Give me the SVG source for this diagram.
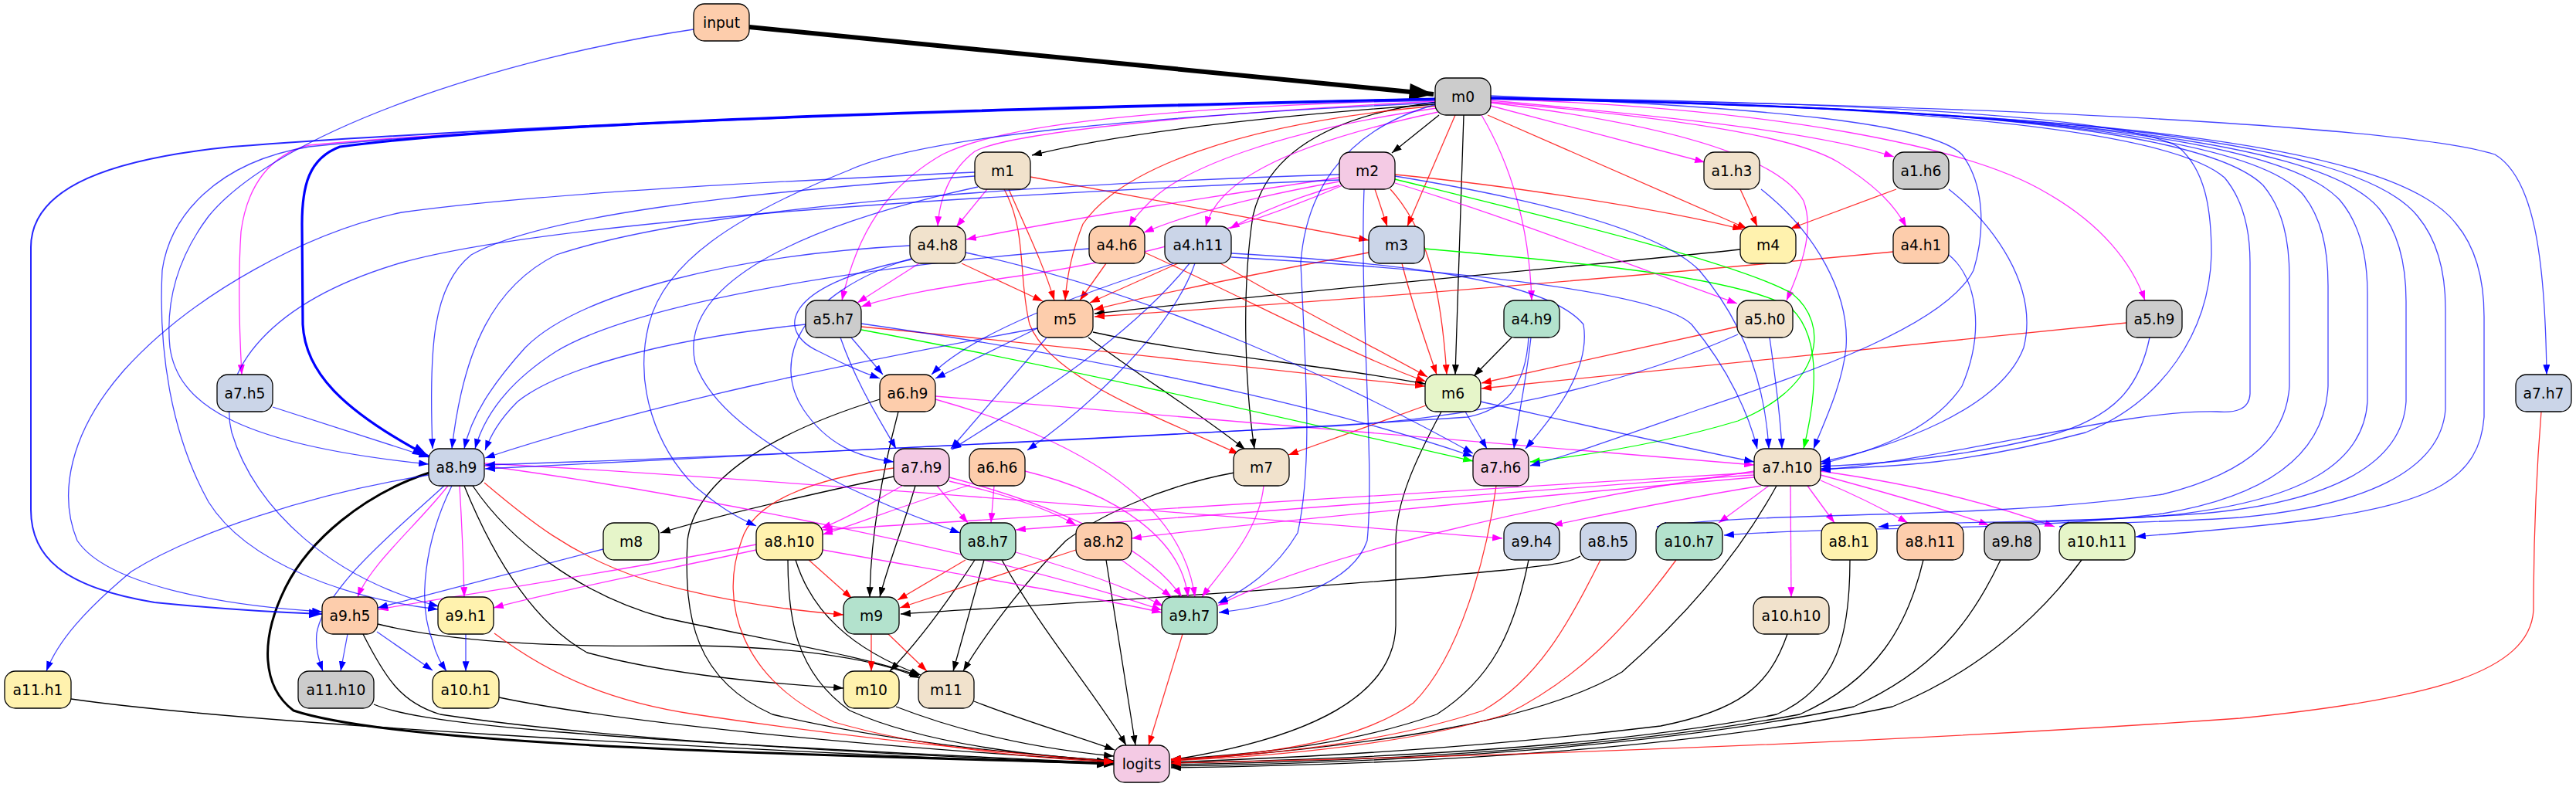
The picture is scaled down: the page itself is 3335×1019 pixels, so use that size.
<svg xmlns="http://www.w3.org/2000/svg" width="3335" height="1019" viewBox="0 0 3335 1019">
<defs>
<marker id="ak" viewBox="0 0 10 7" refX="10" refY="3.5" markerWidth="13" markerHeight="9" markerUnits="userSpaceOnUse" orient="auto"><path d="M0,0L10,3.5L0,7z" fill="#000"/></marker>
<marker id="akT" viewBox="0 0 10 7" refX="10" refY="3.5" markerWidth="32" markerHeight="22" markerUnits="userSpaceOnUse" orient="auto"><path d="M0,0L10,3.5L0,7z" fill="#000"/></marker>
<marker id="akM" viewBox="0 0 10 7" refX="10" refY="3.5" markerWidth="20" markerHeight="14" markerUnits="userSpaceOnUse" orient="auto"><path d="M0,0L10,3.5L0,7z" fill="#000"/></marker>
<marker id="ab" viewBox="0 0 10 7" refX="10" refY="3.5" markerWidth="13" markerHeight="9" markerUnits="userSpaceOnUse" orient="auto"><path d="M0,0L10,3.5L0,7z" fill="#0000ff"/></marker>
<marker id="abT" viewBox="0 0 10 7" refX="10" refY="3.5" markerWidth="21" markerHeight="15" markerUnits="userSpaceOnUse" orient="auto"><path d="M0,0L10,3.5L0,7z" fill="#0000ff"/></marker>
<marker id="abM" viewBox="0 0 10 7" refX="10" refY="3.5" markerWidth="17" markerHeight="12" markerUnits="userSpaceOnUse" orient="auto"><path d="M0,0L10,3.5L0,7z" fill="#0000ff"/></marker>
<marker id="ar" viewBox="0 0 10 7" refX="10" refY="3.5" markerWidth="13" markerHeight="9" markerUnits="userSpaceOnUse" orient="auto"><path d="M0,0L10,3.5L0,7z" fill="#ff0000"/></marker>
<marker id="am" viewBox="0 0 10 7" refX="10" refY="3.5" markerWidth="13" markerHeight="9" markerUnits="userSpaceOnUse" orient="auto"><path d="M0,0L10,3.5L0,7z" fill="#ff00ff"/></marker>
<marker id="ag" viewBox="0 0 10 7" refX="10" refY="3.5" markerWidth="13" markerHeight="9" markerUnits="userSpaceOnUse" orient="auto"><path d="M0,0L10,3.5L0,7z" fill="#00ff00"/></marker>
</defs>
<style>
#edges path{fill:none;stroke-width:1.3}
.k{stroke:#000;marker-end:url(#ak)}
.kT{stroke:#000;stroke-width:6px !important;marker-end:url(#akT)}
.kM{stroke:#000;stroke-width:3px !important;marker-end:url(#akM)}
.b{stroke:#0000ff;stroke-opacity:.72;marker-end:url(#ab)}
.bT{stroke:#0000ff;stroke-width:3.2px !important;marker-end:url(#abT)}
.bM{stroke:#0000ff;stroke-width:2px !important;stroke-opacity:.85;marker-end:url(#abM)}
.r{stroke:#ff0000;stroke-opacity:.8;marker-end:url(#ar)}
.m{stroke:#ff00ff;stroke-opacity:.8;marker-end:url(#am)}
.g{stroke:#00ff00;marker-end:url(#ag)}
.n rect{stroke:#000;stroke-width:1.3}
.n text{font-family:"DejaVu Sans","Liberation Sans",sans-serif;font-size:18.7px;text-anchor:middle;fill:#000}
.c1{fill:#b3e2cd}.c2{fill:#fdcdac}.c3{fill:#cbd5e8}.c4{fill:#f4cae4}.c5{fill:#e6f5c9}.c6{fill:#fff2ae}.c7{fill:#f1e2cc}.c8{fill:#cccccc}
</style>
<rect width="3335" height="1019" fill="#fff"/>
<g id="edges">
<path class="kT" d="M970,35 L1856,122"/>
<path class="k" d="M1858,135 C1650,150 1450,172 1336,201"/>
<path class="k" d="M1863,149 L1802,198"/>
<path class="k" d="M1895,149 L1884,485"/>
<path class="k" d="M1860,132 C1720,150 1640,200 1622,280 C1607,380 1612,500 1624,581"/>
<path class="k" d="M2253,323 C2100,340 1800,365 1417,406"/>
<path class="k" d="M1415,430 C1550,460 1700,470 1845,497"/>
<path class="k" d="M1409,437 C1480,490 1560,540 1612,582"/>
<path class="k" d="M1957,437 L1908,487"/>
<path class="k" d="M1866,533 C1830,600 1808,650 1807,700 L1807,810 C1805,900 1700,955 1516,984"/>
<path class="k" d="M1163,533 C1140,620 1127,700 1126,773"/>
<path class="k" d="M1185,629 C1170,680 1150,730 1139,773"/>
<path class="k" d="M1139,517 C1000,560 900,620 890,700 C885,800 900,880 1000,925 C1150,960 1300,975 1442,985"/>
<path class="k" d="M1157,617 C1050,640 920,670 855,690"/>
<path class="kM" d="M556,612 C470,640 400,700 370,760 C335,830 340,890 380,920 C500,960 900,975 1440,988"/>
<path class="k" d="M601,629 C630,700 680,800 760,845 C870,875 1000,885 1092,891"/>
<path class="k" d="M612,629 C660,700 750,770 860,800 C1000,830 1120,850 1190,875"/>
<path class="k" d="M489,808 C600,835 750,838 900,836 C1040,838 1140,855 1191,878"/>
<path class="k" d="M470,821 C500,880 520,910 570,925 C800,960 1200,980 1442,988"/>
<path class="k" d="M92,905 C300,935 900,970 1442,990"/>
<path class="k" d="M484,912 C540,935 700,955 1442,988"/>
<path class="k" d="M646,903 C800,935 1100,965 1442,986"/>
<path class="k" d="M1020,725 C1020,800 1030,870 1100,920 C1200,965 1350,980 1442,985"/>
<path class="k" d="M1030,725 C1050,790 1100,840 1192,874"/>
<path class="k" d="M1262,725 C1220,790 1180,840 1152,869"/>
<path class="k" d="M1274,725 L1234,869"/>
<path class="k" d="M1297,725 C1350,820 1420,900 1458,965"/>
<path class="k" d="M1432,725 L1470,965"/>
<path class="k" d="M1598,612 C1500,630 1420,670 1380,700 C1320,760 1270,830 1247,869"/>
<path class="k" d="M2046,720 C2030,730 2000,732 1950,738 C1700,762 1400,780 1166,795"/>
<path class="k" d="M1160,915 C1250,950 1350,970 1442,979"/>
<path class="k" d="M1261,908 C1330,935 1400,955 1443,971"/>
<path class="k" d="M2300,629 C2250,720 2180,800 2100,870 C2000,930 1800,965 1516,985"/>
<path class="k" d="M1979,725 C1960,820 1930,880 1860,925 C1760,960 1650,975 1516,983"/>
<path class="k" d="M2314,821 C2290,890 2250,920 2150,940 C1900,970 1700,980 1516,987"/>
<path class="k" d="M2395,725 C2395,820 2380,890 2300,925 C2100,965 1800,982 1516,988"/>
<path class="k" d="M2490,725 C2470,810 2430,880 2330,925 C2100,968 1800,985 1516,990"/>
<path class="k" d="M2590,725 C2550,810 2500,870 2400,915 C2150,968 1800,988 1516,992"/>
<path class="k" d="M2695,725 C2640,800 2560,870 2450,915 C2200,968 1850,990 1516,994"/>
<path class="r" d="M1157,606 C1050,620 975,650 960,700 C930,780 960,880 1080,935 C1200,970 1350,982 1442,987"/>
<path class="r" d="M640,820 C720,880 800,910 900,925 C1100,955 1300,975 1442,986"/>
<path class="r" d="M1531,821 L1487,965"/>
<path class="r" d="M1937,629 C1925,720 1890,850 1830,910 C1760,960 1640,978 1516,983"/>
<path class="r" d="M2072,725 C2030,810 1990,880 1920,920 C1800,960 1650,977 1516,984"/>
<path class="r" d="M2170,725 C2100,820 2040,880 1950,925 C1830,962 1660,979 1516,985"/>
<path class="r" d="M3290,533 C3283,620 3280,700 3280,790 C3275,870 3150,905 2900,930 C2400,965 1900,980 1516,988"/>
<path class="r" d="M1884,149 L1822,293"/>
<path class="r" d="M1780,245 L1796,293"/>
<path class="r" d="M1334,229 L1772,311"/>
<path class="r" d="M1926,149 L2262,296"/>
<path class="r" d="M1806,226 C1950,240 2150,270 2256,297"/>
<path class="r" d="M2253,245 L2275,293"/>
<path class="r" d="M2455,245 L2318,296"/>
<path class="r" d="M1860,137 C1600,160 1450,220 1402,290 C1386,330 1381,360 1379,389"/>
<path class="r" d="M1306,245 C1330,300 1350,340 1365,389"/>
<path class="r" d="M1245,341 L1350,390"/>
<path class="r" d="M1432,341 L1398,389"/>
<path class="r" d="M1525,341 L1411,392"/>
<path class="r" d="M1772,327 C1650,350 1500,380 1416,401"/>
<path class="r" d="M2451,326 C2200,350 1800,385 1417,410"/>
<path class="r" d="M1800,245 C1850,300 1866,380 1873,485"/>
<path class="r" d="M1815,341 C1830,400 1848,450 1860,485"/>
<path class="r" d="M1580,341 C1680,400 1780,450 1848,488"/>
<path class="r" d="M1482,327 C1600,380 1750,460 1846,494"/>
<path class="r" d="M1115,423 C1400,450 1650,480 1845,500"/>
<path class="r" d="M2249,423 L1918,496"/>
<path class="r" d="M2753,418 L1918,503"/>
<path class="r" d="M1846,525 L1668,589"/>
<path class="r" d="M1300,245 C1330,300 1318,360 1333,420 C1360,490 1500,540 1604,588"/>
<path class="r" d="M627,625 C680,670 740,720 834,750 C920,775 1000,788 1092,796"/>
<path class="r" d="M1047,725 L1103,775"/>
<path class="r" d="M1250,725 L1162,777"/>
<path class="r" d="M1393,712 L1165,787"/>
<path class="r" d="M1128,821 L1128,869"/>
<path class="r" d="M1150,821 L1200,869"/>
<path class="m" d="M1930,137 L2207,210"/>
<path class="m" d="M1930,130 C2150,150 2350,170 2452,203"/>
<path class="m" d="M1930,132 C2200,155 2330,180 2380,210 C2420,235 2450,260 2468,294"/>
<path class="m" d="M1858,131 C1500,150 1300,175 1262,196 C1228,222 1216,260 1214,293"/>
<path class="m" d="M1278,245 L1238,294"/>
<path class="m" d="M1734,230 C1600,250 1400,280 1251,310"/>
<path class="m" d="M1860,140 C1650,170 1530,220 1490,260 C1475,275 1466,285 1462,293"/>
<path class="m" d="M1734,235 C1650,250 1550,272 1481,301"/>
<path class="m" d="M1862,145 C1650,190 1575,240 1561,293"/>
<path class="m" d="M1734,240 C1680,255 1630,275 1592,296"/>
<path class="m" d="M1858,129 C1500,140 1300,160 1220,200 C1150,240 1110,300 1090,389"/>
<path class="m" d="M1190,341 L1110,392"/>
<path class="m" d="M1738,240 C1600,300 1450,340 1300,360 C1200,375 1150,385 1115,397"/>
<path class="m" d="M1918,149 C1960,220 1980,300 1983,389"/>
<path class="m" d="M1930,133 C2150,160 2300,200 2335,260 C2350,300 2330,350 2313,389"/>
<path class="m" d="M1806,237 C1950,280 2100,340 2249,393"/>
<path class="m" d="M1930,128 C2300,140 2550,190 2650,250 C2720,290 2760,340 2777,389"/>
<path class="m" d="M1858,128 C1300,140 700,160 400,188 C350,200 320,240 312,300 C308,360 310,430 313,485"/>
<path class="m" d="M1211,513 C1500,540 1900,570 2271,602"/>
<path class="m" d="M1168,629 C1130,650 1100,670 1063,684"/>
<path class="m" d="M1256,628 C1180,650 1120,675 1065,692"/>
<path class="m" d="M1213,629 L1253,677"/>
<path class="m" d="M1287,629 L1283,677"/>
<path class="m" d="M1229,623 C1300,640 1360,660 1393,680"/>
<path class="m" d="M1229,618 C1350,650 1480,700 1530,773"/>
<path class="m" d="M1327,610 C1450,640 1530,700 1538,773"/>
<path class="m" d="M1211,517 C1400,570 1530,650 1547,773"/>
<path class="m" d="M1636,629 C1630,690 1580,740 1556,773"/>
<path class="m" d="M2271,610 C2000,650 1700,720 1577,784"/>
<path class="m" d="M1065,712 C1250,745 1400,770 1504,793"/>
<path class="m" d="M1315,715 C1400,740 1460,760 1506,785"/>
<path class="m" d="M1452,725 L1517,773"/>
<path class="m" d="M627,603 C900,640 1300,720 1504,790"/>
<path class="m" d="M627,600 C1000,620 1600,670 1945,697"/>
<path class="m" d="M2280,629 C2150,650 2060,670 2010,680"/>
<path class="m" d="M2271,612 C1800,640 1300,670 1065,686"/>
<path class="m" d="M2271,615 C1900,640 1500,670 1315,686"/>
<path class="m" d="M2271,618 C1900,650 1600,680 1465,697"/>
<path class="m" d="M2290,629 L2225,677"/>
<path class="m" d="M2340,629 L2375,677"/>
<path class="m" d="M2357,622 C2400,640 2440,660 2470,677"/>
<path class="m" d="M2318,629 L2319,773"/>
<path class="m" d="M2357,615 C2450,640 2520,660 2575,680"/>
<path class="m" d="M2357,610 C2500,630 2600,660 2660,682"/>
<path class="m" d="M580,629 C540,680 480,730 463,773"/>
<path class="m" d="M595,629 C598,680 600,730 601,773"/>
<path class="m" d="M979,705 C800,740 600,770 490,789"/>
<path class="m" d="M979,712 C850,740 720,765 639,787"/>
<path class="g" d="M1115,427 C1400,480 1700,550 1907,597"/>
<path class="g" d="M1806,232 C2000,280 2250,340 2320,380 C2370,420 2360,500 2250,545 C2150,575 2050,590 1981,598"/>
<path class="g" d="M1844,322 C2050,340 2260,360 2320,400 C2360,440 2350,520 2335,581"/>
<path class="bT" d="M1858,128 C1400,138 700,155 440,190 C400,205 391,240 391,290 L392,420 C395,480 440,530 555,591"/>
<path class="b" d="M898,38 C650,75 360,170 270,280 C225,340 215,400 220,450 C230,520 300,575 555,601"/>
<path class="b" d="M1858,130 C1300,142 700,158 400,190 C280,210 220,280 210,350 C205,450 220,560 270,650 C320,730 450,775 567,789"/>
<path class="bM" d="M1858,128 C1300,140 700,160 300,190 C150,205 40,240 40,320 L40,660 C40,720 80,760 200,780 C300,790 360,793 417,795"/>
<path class="b" d="M1262,223 C1000,235 700,250 520,275 C400,300 250,380 160,480 C90,560 75,640 100,700 C140,760 300,785 417,792"/>
<path class="b" d="M1262,228 C950,250 700,280 610,330 C560,370 555,450 560,581"/>
<path class="b" d="M1734,226 C1300,240 900,270 720,330 C640,370 600,450 585,581"/>
<path class="b" d="M1734,233 C1200,255 700,290 520,340 C350,390 280,480 300,560 C330,660 430,750 568,785"/>
<path class="b" d="M1178,318 C950,330 750,380 680,450 C635,500 610,540 601,581"/>
<path class="b" d="M1410,322 C1100,345 820,395 720,455 C650,500 625,545 615,581"/>
<path class="b" d="M1043,420 C850,440 720,480 670,520 C645,545 635,565 628,583"/>
<path class="b" d="M1343,425 C1100,470 850,520 628,593"/>
<path class="b" d="M1979,437 C1975,500 1950,530 1900,540 C1600,560 1000,590 628,602"/>
<path class="b" d="M2250,433 C2100,500 1900,545 1700,553 C1300,575 900,595 628,607"/>
<path class="b" d="M353,527 L555,592"/>
<path class="b" d="M1355,437 L1231,581"/>
<path class="b" d="M1540,341 C1460,440 1330,520 1232,582"/>
<path class="b" d="M1088,437 C1110,500 1140,545 1160,581"/>
<path class="b" d="M1182,334 C1030,380 1000,470 1040,530 C1070,575 1110,592 1157,598"/>
<path class="b" d="M1102,437 L1143,485"/>
<path class="b" d="M1343,425 L1211,490"/>
<path class="b" d="M1520,341 C1400,380 1260,430 1206,485"/>
<path class="b" d="M1180,336 C1010,370 1005,430 1060,455 C1090,470 1110,480 1139,490"/>
<path class="b" d="M1547,341 C1520,420 1420,520 1330,583"/>
<path class="b" d="M1115,419 C1400,460 1700,520 1907,591"/>
<path class="b" d="M1897,533 L1925,581"/>
<path class="b" d="M1982,437 C1975,500 1965,540 1960,581"/>
<path class="b" d="M1594,328 C1800,340 2000,360 2050,420 C2060,480 2010,540 1975,581"/>
<path class="b" d="M1930,124 C2300,140 2500,160 2540,200 C2570,240 2570,300 2555,350 C2520,420 2350,480 2200,530 C2100,565 2030,590 1981,603"/>
<path class="b" d="M1594,333 C1900,350 2150,380 2190,420 C2240,480 2265,540 2275,581"/>
<path class="b" d="M1806,228 C2000,260 2150,300 2200,350 C2260,420 2285,500 2290,581"/>
<path class="b" d="M2280,245 C2350,300 2395,380 2390,450 C2385,500 2360,550 2348,581"/>
<path class="b" d="M2291,437 C2300,500 2305,540 2307,581"/>
<path class="b" d="M1917,520 C2050,550 2180,580 2271,598"/>
<path class="b" d="M2523,245 C2580,290 2640,370 2620,450 C2590,530 2450,580 2357,598"/>
<path class="b" d="M2523,330 C2560,360 2570,430 2540,500 C2500,560 2420,585 2357,601"/>
<path class="b" d="M2783,437 C2770,500 2740,540 2650,565 C2550,590 2450,600 2357,604"/>
<path class="b" d="M1930,126 C2400,132 2750,150 2820,190 C2855,220 2863,270 2863,330 C2860,430 2800,520 2700,560 C2550,600 2450,605 2357,607"/>
<path class="b" d="M1930,126 C2400,135 2800,160 2880,230 C2905,260 2913,300 2913,340 L2913,510 C2912,530 2895,535 2870,533 C2750,530 2550,590 2357,609"/>
<path class="b" d="M1930,127 C2450,135 2850,160 2930,240 C2955,270 2964,310 2964,360 L2964,500 C2960,560 2920,610 2800,640 C2550,675 2300,660 2145,682"/>
<path class="b" d="M1930,127 C2500,137 2900,165 2980,250 C3005,280 3014,320 3014,370 L3014,500 C3010,580 2950,640 2800,665 C2600,690 2400,680 2232,693"/>
<path class="b" d="M1930,127 C2550,138 2950,170 3030,260 C3055,290 3065,330 3065,380 L3065,520 C3060,600 2980,650 2800,668 C2650,678 2520,674 2432,682"/>
<path class="b" d="M1930,128 C2600,140 3000,175 3080,270 C3105,300 3115,340 3115,390 L3115,520 C3110,600 3020,650 2850,665 C2700,675 2620,675 2570,682"/>
<path class="b" d="M1930,128 C2650,140 3050,180 3130,280 C3155,310 3166,350 3166,400 L3166,530 C3160,610 3060,655 2900,670 C2780,678 2700,676 2666,682"/>
<path class="b" d="M1930,128 C2700,142 3100,185 3180,290 C3205,320 3216,360 3216,410 L3216,540 C3210,620 3150,650 3000,672 C2900,685 2820,690 2765,695"/>
<path class="b" d="M1930,127 C2800,140 3150,175 3230,200 C3280,230 3295,330 3297,485"/>
<path class="b" d="M1860,135 C1730,170 1690,260 1684,340 C1690,480 1700,600 1680,690 C1650,740 1610,765 1577,781"/>
<path class="b" d="M1766,245 C1760,400 1780,600 1770,700 C1750,760 1650,785 1578,793"/>
<path class="b" d="M1858,133 C1500,150 1200,175 1100,220 C950,280 860,340 840,420 C820,500 850,580 900,630 C930,655 950,668 979,681"/>
<path class="b" d="M1266,242 C1000,300 880,380 900,470 C930,560 1100,640 1243,690"/>
<path class="b" d="M555,615 C400,640 250,690 170,740 C110,790 75,830 60,869"/>
<path class="b" d="M575,629 C520,680 420,760 410,820 C408,840 413,855 418,869"/>
<path class="b" d="M585,629 C550,700 540,780 560,830 C565,850 572,860 578,869"/>
<path class="b" d="M450,821 L441,869"/>
<path class="b" d="M488,818 L560,868"/>
<path class="b" d="M603,821 L603,869"/>
<path class="b" d="M781,711 L489,787"/>
<path class="b" d="M1250,327 C1500,380 1750,500 1907,587"/>
</g>
<g id="node-input" class="n"><rect class="c2" x="898" y="5" width="72" height="48" rx="14"/><text x="934" y="36">input</text></g>
<g id="node-m0" class="n"><rect class="c8" x="1858" y="101" width="72" height="48" rx="14"/><text x="1894" y="132">m0</text></g>
<g id="node-m1" class="n"><rect class="c7" x="1262" y="197" width="72" height="48" rx="14"/><text x="1298" y="228">m1</text></g>
<g id="node-m2" class="n"><rect class="c4" x="1734" y="197" width="72" height="48" rx="14"/><text x="1770" y="228">m2</text></g>
<g id="node-a1.h3" class="n"><rect class="c7" x="2206" y="197" width="72" height="48" rx="14"/><text x="2242" y="228">a1.h3</text></g>
<g id="node-a1.h6" class="n"><rect class="c8" x="2451" y="197" width="72" height="48" rx="14"/><text x="2487" y="228">a1.h6</text></g>
<g id="node-a4.h8" class="n"><rect class="c7" x="1178" y="293" width="72" height="48" rx="14"/><text x="1214" y="324">a4.h8</text></g>
<g id="node-a4.h6" class="n"><rect class="c2" x="1410" y="293" width="72" height="48" rx="14"/><text x="1446" y="324">a4.h6</text></g>
<g id="node-a4.h11" class="n"><rect class="c3" x="1508" y="293" width="86" height="48" rx="14"/><text x="1551" y="324">a4.h11</text></g>
<g id="node-m3" class="n"><rect class="c3" x="1772" y="293" width="72" height="48" rx="14"/><text x="1808" y="324">m3</text></g>
<g id="node-m4" class="n"><rect class="c6" x="2253" y="293" width="72" height="48" rx="14"/><text x="2289" y="324">m4</text></g>
<g id="node-a4.h1" class="n"><rect class="c2" x="2451" y="293" width="72" height="48" rx="14"/><text x="2487" y="324">a4.h1</text></g>
<g id="node-a5.h7" class="n"><rect class="c8" x="1043" y="389" width="72" height="48" rx="14"/><text x="1079" y="420">a5.h7</text></g>
<g id="node-m5" class="n"><rect class="c2" x="1343" y="389" width="72" height="48" rx="14"/><text x="1379" y="420">m5</text></g>
<g id="node-a4.h9" class="n"><rect class="c1" x="1947" y="389" width="72" height="48" rx="14"/><text x="1983" y="420">a4.h9</text></g>
<g id="node-a5.h0" class="n"><rect class="c7" x="2249" y="389" width="72" height="48" rx="14"/><text x="2285" y="420">a5.h0</text></g>
<g id="node-a5.h9" class="n"><rect class="c8" x="2753" y="389" width="72" height="48" rx="14"/><text x="2789" y="420">a5.h9</text></g>
<g id="node-a7.h5" class="n"><rect class="c3" x="281" y="485" width="72" height="48" rx="14"/><text x="317" y="516">a7.h5</text></g>
<g id="node-a6.h9" class="n"><rect class="c2" x="1139" y="485" width="72" height="48" rx="14"/><text x="1175" y="516">a6.h9</text></g>
<g id="node-m6" class="n"><rect class="c5" x="1845" y="485" width="72" height="48" rx="14"/><text x="1881" y="516">m6</text></g>
<g id="node-a7.h7" class="n"><rect class="c3" x="3257" y="485" width="72" height="48" rx="14"/><text x="3293" y="516">a7.h7</text></g>
<g id="node-a8.h9" class="n"><rect class="c3" x="555" y="581" width="72" height="48" rx="14"/><text x="591" y="612">a8.h9</text></g>
<g id="node-a7.h9" class="n"><rect class="c4" x="1157" y="581" width="72" height="48" rx="14"/><text x="1193" y="612">a7.h9</text></g>
<g id="node-a6.h6" class="n"><rect class="c2" x="1255" y="581" width="72" height="48" rx="14"/><text x="1291" y="612">a6.h6</text></g>
<g id="node-m7" class="n"><rect class="c7" x="1597" y="581" width="72" height="48" rx="14"/><text x="1633" y="612">m7</text></g>
<g id="node-a7.h6" class="n"><rect class="c4" x="1907" y="581" width="72" height="48" rx="14"/><text x="1943" y="612">a7.h6</text></g>
<g id="node-a7.h10" class="n"><rect class="c7" x="2271" y="581" width="86" height="48" rx="14"/><text x="2314" y="612">a7.h10</text></g>
<g id="node-m8" class="n"><rect class="c5" x="781" y="677" width="72" height="48" rx="14"/><text x="817" y="708">m8</text></g>
<g id="node-a8.h10" class="n"><rect class="c6" x="979" y="677" width="86" height="48" rx="14"/><text x="1022" y="708">a8.h10</text></g>
<g id="node-a8.h7" class="n"><rect class="c1" x="1243" y="677" width="72" height="48" rx="14"/><text x="1279" y="708">a8.h7</text></g>
<g id="node-a8.h2" class="n"><rect class="c2" x="1393" y="677" width="72" height="48" rx="14"/><text x="1429" y="708">a8.h2</text></g>
<g id="node-a9.h4" class="n"><rect class="c3" x="1947" y="677" width="72" height="48" rx="14"/><text x="1983" y="708">a9.h4</text></g>
<g id="node-a8.h5" class="n"><rect class="c3" x="2046" y="677" width="72" height="48" rx="14"/><text x="2082" y="708">a8.h5</text></g>
<g id="node-a10.h7" class="n"><rect class="c1" x="2144" y="677" width="86" height="48" rx="14"/><text x="2187" y="708">a10.h7</text></g>
<g id="node-a8.h1" class="n"><rect class="c6" x="2358" y="677" width="72" height="48" rx="14"/><text x="2394" y="708">a8.h1</text></g>
<g id="node-a8.h11" class="n"><rect class="c2" x="2456" y="677" width="86" height="48" rx="14"/><text x="2499" y="708">a8.h11</text></g>
<g id="node-a9.h8" class="n"><rect class="c8" x="2569" y="677" width="72" height="48" rx="14"/><text x="2605" y="708">a9.h8</text></g>
<g id="node-a10.h11" class="n"><rect class="c5" x="2666" y="677" width="98" height="48" rx="14"/><text x="2715" y="708">a10.h11</text></g>
<g id="node-a9.h5" class="n"><rect class="c2" x="417" y="773" width="72" height="48" rx="14"/><text x="453" y="804">a9.h5</text></g>
<g id="node-a9.h1" class="n"><rect class="c6" x="567" y="773" width="72" height="48" rx="14"/><text x="603" y="804">a9.h1</text></g>
<g id="node-m9" class="n"><rect class="c1" x="1092" y="773" width="72" height="48" rx="14"/><text x="1128" y="804">m9</text></g>
<g id="node-a9.h7" class="n"><rect class="c1" x="1504" y="773" width="72" height="48" rx="14"/><text x="1540" y="804">a9.h7</text></g>
<g id="node-a10.h10" class="n"><rect class="c7" x="2270" y="773" width="98" height="48" rx="14"/><text x="2319" y="804">a10.h10</text></g>
<g id="node-a11.h1" class="n"><rect class="c6" x="6" y="869" width="86" height="48" rx="14"/><text x="49" y="900">a11.h1</text></g>
<g id="node-a11.h10" class="n"><rect class="c8" x="386" y="869" width="98" height="48" rx="14"/><text x="435" y="900">a11.h10</text></g>
<g id="node-a10.h1" class="n"><rect class="c6" x="560" y="869" width="86" height="48" rx="14"/><text x="603" y="900">a10.h1</text></g>
<g id="node-m10" class="n"><rect class="c6" x="1092" y="869" width="72" height="48" rx="14"/><text x="1128" y="900">m10</text></g>
<g id="node-m11" class="n"><rect class="c7" x="1189" y="869" width="72" height="48" rx="14"/><text x="1225" y="900">m11</text></g>
<g id="node-logits" class="n"><rect class="c4" x="1442" y="965" width="72" height="48" rx="14"/><text x="1478" y="996">logits</text></g>
</svg>
